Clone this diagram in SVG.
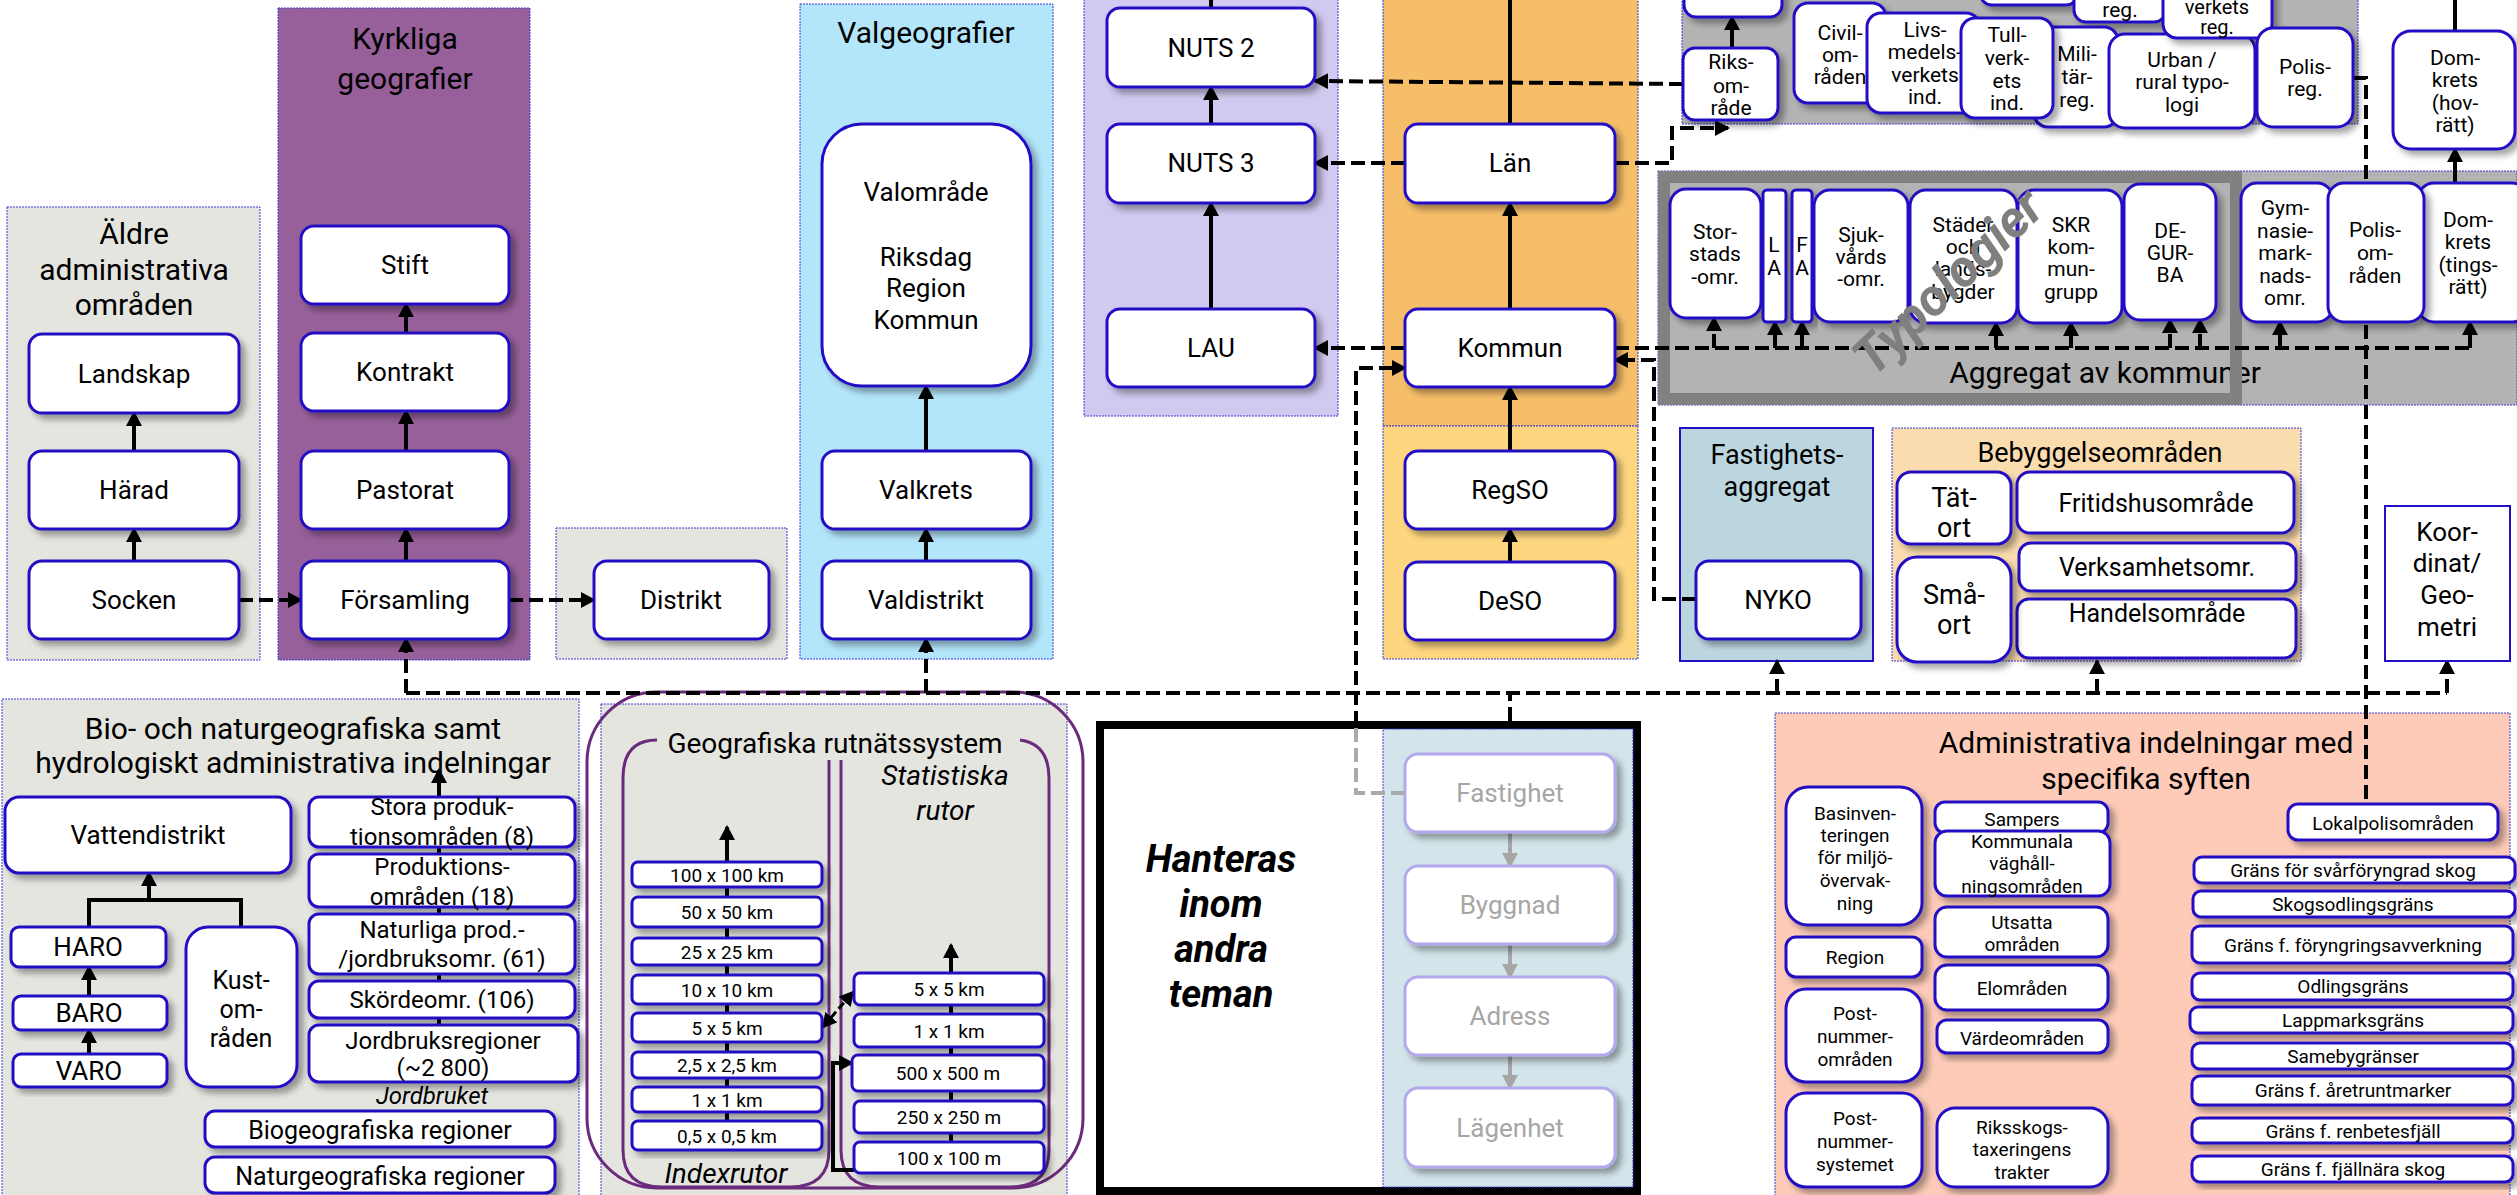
<svg xmlns="http://www.w3.org/2000/svg" width="2517" height="1195" viewBox="0 0 2517 1195">
<defs>
<style>
text{font-family:Roboto,'Liberation Sans',Arial,sans-serif;text-anchor:middle;dominant-baseline:central;fill:#000}
.bx{stroke:#3b3bd6;stroke-width:1;stroke-dasharray:2 1}
.n{fill:#fff;stroke:#2410c4;stroke-width:3;filter:url(#sh)}
.nf{fill:#fff;stroke:#b4a8ec;stroke-width:3;filter:url(#sh)}
.c{fill:none;stroke:#000;stroke-width:4}
.d{fill:none;stroke:#000;stroke-width:4;stroke-dasharray:14 6}
.dg{fill:none;stroke:#aaa;stroke-width:4;stroke-dasharray:14 6}
.g{fill:none;stroke:#a6a6a6;stroke-width:4}
.pu{fill:none;stroke:#6b2a7b;stroke-width:3}
.f19{font-size:19px}.f20{font-size:20px}.f21{font-size:21px}.f22{font-size:22px}.f24{font-size:24px}.f25{font-size:25px}.f26{font-size:26px}.f27{font-size:27px}.f28{font-size:28px}.f30{font-size:30px}
.it{font-style:italic}
.ft{fill:#a6a6a6}
.hb{font-size:38px;font-weight:bold;font-style:italic}
</style>
<filter id="sh" x="-20%" y="-20%" width="150%" height="150%"><feDropShadow dx="5" dy="5" stdDeviation="3" flood-color="#000" flood-opacity="0.35"/></filter>
<marker id="a" viewBox="0 0 15 16" refX="13" refY="8" markerWidth="15" markerHeight="16" markerUnits="userSpaceOnUse" orient="auto-start-reverse"><path d="M0,0 L15,8 L0,16 z" fill="#000" stroke="none"/></marker>
<marker id="ag" viewBox="0 0 15 16" refX="13" refY="8" markerWidth="15" markerHeight="16" markerUnits="userSpaceOnUse" orient="auto"><path d="M0,0 L15,8 L0,16 z" fill="#a6a6a6" stroke="none"/></marker>
</defs>
<rect width="2517" height="1195" fill="#fff"/>

<!-- containers -->
<g id="containers">
<rect class="bx" x="7" y="207" width="253" height="453" fill="#e5e5e0"/>
<text class="f30" x="134" y="233">Äldre</text>
<text class="f30" x="134" y="269">administrativa</text>
<text class="f30" x="134" y="304">områden</text>
<rect class="bx" x="278" y="8" width="252" height="652" fill="#97609a"/>
<text class="f30" x="405" y="38">Kyrkliga</text>
<text class="f30" x="405" y="78">geografier</text>
<rect class="bx" x="556" y="528" width="231" height="131" fill="#e5e5e0"/>
<rect class="bx" x="800" y="4" width="253" height="655" fill="#b3e5fb"/>
<text class="f30" x="926" y="32">Valgeografier</text>
<rect class="bx" x="1084" y="-5" width="254" height="421" fill="#d1c9ef"/>
<rect class="bx" x="1383" y="-5" width="255" height="431" fill="#f6be69"/>
<rect class="bx" x="1383" y="426" width="255" height="233" fill="#fed67f"/>
<rect class="bx" x="1682" y="-5" width="676" height="129" fill="#b3b3b3"/>
<rect class="bx" x="1658" y="171" width="859" height="234" fill="#b3b3b3"/>
<text class="f30" x="2105" y="372">Aggregat av kommuner</text>
<rect x="1664" y="177" width="572" height="222" fill="none" stroke="#818181" stroke-width="12"/>
<rect x="1680" y="428" width="193" height="233" fill="#bcd6df" stroke="#2410c4" stroke-width="2"/>
<text class="f27" x="1777" y="455">Fastighets-</text>
<text class="f27" x="1777" y="487">aggregat</text>
<rect class="bx" x="1892" y="428" width="409" height="233" fill="#fbdcae"/>
<text class="f27" x="2100" y="453">Bebyggelseområden</text>
<rect class="bx" x="2" y="699" width="577" height="500" fill="#e5e5e0"/>
<text class="f30" x="293" y="728">Bio- och naturgeografiska samt</text>
<text class="f30" x="293" y="762">hydrologiskt administrativa indelningar</text>
<rect class="bx" x="601" y="704" width="466" height="495" fill="#e5e5e0"/>
<rect class="pu" x="587" y="692" width="496" height="496" rx="70"/>
<path class="pu" d="M657,740 Q623,740 623,778 V1150 Q623,1187 662,1187 H790 Q829,1187 829,1150 V760"/>
<path class="pu" d="M1020,740 Q1049,744 1049,778 V1150 Q1049,1187 1010,1187 H880 Q841,1187 841,1150 V760"/>
<text class="f28" x="835" y="743">Geografiska rutnätssystem</text>
<text class="f28 it" x="945" y="775">Statistiska</text>
<text class="f28 it" x="945" y="810">rutor</text>
<text class="f28 it" x="726" y="1173">Indexrutor</text>
<rect x="1100" y="725" width="537" height="466" fill="#fff" stroke="#000" stroke-width="8"/>
<rect class="bx" x="1383" y="729" width="250" height="458" fill="#d3e5ea" stroke="#b0b0f0"/>
<text class="hb" x="1221" y="859">Hanteras</text>
<text class="hb" x="1221" y="904">inom</text>
<text class="hb" x="1221" y="949">andra</text>
<text class="hb" x="1221" y="994">teman</text>
<rect class="bx" x="1775" y="713" width="735" height="486" fill="#fecbb9"/>
<text class="f30" x="2146" y="742">Administrativa indelningar med</text>
<text class="f30" x="2146" y="778">specifika syften</text>
</g>

<!-- connectors -->
<g id="connectors">
<path class="c" d="M134,451 V413" marker-end="url(#a)"/>
<path class="c" d="M134,561 V529" marker-end="url(#a)"/>
<path class="c" d="M406,333 V304" marker-end="url(#a)"/>
<path class="c" d="M406,451 V411" marker-end="url(#a)"/>
<path class="c" d="M406,561 V529" marker-end="url(#a)"/>
<path class="d" d="M239,600 H301" marker-end="url(#a)"/>
<path class="d" d="M509,600 H594" marker-end="url(#a)"/>
<path class="c" d="M926,451 V386" marker-end="url(#a)"/>
<path class="c" d="M926,561 V529" marker-end="url(#a)"/>
<path class="c" d="M1211,8 V-5"/>
<path class="c" d="M1211,124 V87" marker-end="url(#a)"/>
<path class="c" d="M1211,309 V203" marker-end="url(#a)"/>
<path class="c" d="M1510,124 V-5"/>
<path class="c" d="M1510,309 V203" marker-end="url(#a)"/>
<path class="c" d="M1510,451 V387" marker-end="url(#a)"/>
<path class="c" d="M1510,562 V529" marker-end="url(#a)"/>
<path class="d" d="M1683,84 L1315,81" marker-end="url(#a)"/>
<path class="d" d="M1405,163 H1315" marker-end="url(#a)"/>
<path class="d" d="M1615,163 H1672 V128 H1728" marker-end="url(#a)"/>
<path class="d" d="M1405,348 H1315" marker-end="url(#a)"/>
<path class="dg" d="M1405,793 H1356 V725"/>
<path class="d" d="M1356,725 V368 H1405" marker-end="url(#a)"/>
<path class="d" d="M1696,599 H1654 V360 H1615" marker-end="url(#a)"/>
<path class="c" d="M1732,48 V17" marker-end="url(#a)"/>
<path class="c" d="M2455,31 V-5"/>
<path class="c" d="M2455,183 V149" marker-end="url(#a)"/>
<path class="d" d="M2353,78 H2366 V804"/>
<path class="d" d="M1615,348 H2470"/>
<path class="d" d="M1714,348 V318" marker-end="url(#a)"/>
<path class="d" d="M1775,348 V322" marker-end="url(#a)"/>
<path class="d" d="M1802,348 V322" marker-end="url(#a)"/>
<path class="d" d="M1996,348 V323" marker-end="url(#a)"/>
<path class="d" d="M2071,348 V323" marker-end="url(#a)"/>
<path class="d" d="M2170,348 V320" marker-end="url(#a)"/>
<path class="d" d="M2200,348 V320" marker-end="url(#a)"/>
<path class="d" d="M2280,348 V322" marker-end="url(#a)"/>
<path class="d" d="M2470,348 V322" marker-end="url(#a)"/>
<path class="d" d="M406,693 H2447"/>
<path class="d" d="M406,693 V639" marker-end="url(#a)"/>
<path class="d" d="M926,693 V639" marker-end="url(#a)"/>
<path class="d" d="M1777,693 V661" marker-end="url(#a)"/>
<path class="d" d="M2097,693 V661" marker-end="url(#a)"/>
<path class="d" d="M2447,693 V661" marker-end="url(#a)"/>
<path class="d" d="M1510,721 V693"/>
<path class="c" d="M89,927 V900 H241 V927"/>
<path class="c" d="M149,900 V873" marker-end="url(#a)"/>
<path class="c" d="M89,996 V967" marker-end="url(#a)"/>
<path class="c" d="M89,1054 V1030" marker-end="url(#a)"/>
<path class="c" d="M439,1025 V770" marker-end="url(#a)"/>
<path class="c" d="M727,1121 V827" marker-end="url(#a)"/>
<path class="c" d="M951,1142 V945" marker-end="url(#a)"/>
<path class="d" style="stroke-width:3;stroke-dasharray:8 4" d="M823,1027 L853,992" marker-start="url(#a)" marker-end="url(#a)"/>
<path class="c" d="M854,1170 H833 V1063 H852" marker-end="url(#a)"/>
<path class="g" d="M1510,832 V866" marker-end="url(#ag)"/>
<path class="g" d="M1510,944 V977" marker-end="url(#ag)"/>
<path class="g" d="M1510,1055 V1088" marker-end="url(#ag)"/>
</g>

<!-- nodes -->
<g id="n-landskap"><rect class="n" x="29" y="334" width="210" height="79" rx="13"/><text class="f26" x="134" y="374">Landskap</text></g>
<g id="n-harad"><rect class="n" x="29" y="451" width="210" height="78" rx="13"/><text class="f26" x="134" y="490">Härad</text></g>
<g id="n-socken"><rect class="n" x="29" y="561" width="210" height="78" rx="13"/><text class="f26" x="134" y="600">Socken</text></g>
<g id="n-stift"><rect class="n" x="301" y="226" width="208" height="78" rx="13"/><text class="f26" x="405" y="265">Stift</text></g>
<g id="n-kontrakt"><rect class="n" x="301" y="333" width="208" height="78" rx="13"/><text class="f26" x="405" y="372">Kontrakt</text></g>
<g id="n-pastorat"><rect class="n" x="301" y="451" width="208" height="78" rx="13"/><text class="f26" x="405" y="490">Pastorat</text></g>
<g id="n-forsamling"><rect class="n" x="301" y="561" width="208" height="78" rx="13"/><text class="f26" x="405" y="600">Församling</text></g>
<g id="n-distrikt"><rect class="n" x="594" y="561" width="175" height="78" rx="13"/><text class="f26" x="681" y="600">Distrikt</text></g>
<g id="n-valomrade"><rect class="n" x="822" y="124" width="209" height="262" rx="40"/><text class="f26" x="926" y="192">Valområde</text><text class="f26" x="926" y="257">Riksdag</text><text class="f26" x="926" y="288">Region</text><text class="f26" x="926" y="320">Kommun</text></g>
<g id="n-valkrets"><rect class="n" x="822" y="451" width="209" height="78" rx="13"/><text class="f26" x="926" y="490">Valkrets</text></g>
<g id="n-valdistrikt"><rect class="n" x="822" y="561" width="209" height="78" rx="13"/><text class="f26" x="926" y="600">Valdistrikt</text></g>
<g id="n-nuts2"><rect class="n" x="1107" y="8" width="208" height="79" rx="13"/><text class="f26" x="1211" y="48">NUTS 2</text></g>
<g id="n-nuts3"><rect class="n" x="1107" y="124" width="208" height="79" rx="13"/><text class="f26" x="1211" y="163">NUTS 3</text></g>
<g id="n-lau"><rect class="n" x="1107" y="309" width="208" height="78" rx="13"/><text class="f26" x="1211" y="348">LAU</text></g>
<g id="n-lan"><rect class="n" x="1405" y="124" width="210" height="79" rx="13"/><text class="f26" x="1510" y="163">Län</text></g>
<g id="n-kommun"><rect class="n" x="1405" y="309" width="210" height="78" rx="13"/><text class="f26" x="1510" y="348">Kommun</text></g>
<g id="n-regso"><rect class="n" x="1405" y="451" width="210" height="78" rx="13"/><text class="f26" x="1510" y="490">RegSO</text></g>
<g id="n-deso"><rect class="n" x="1405" y="562" width="210" height="78" rx="13"/><text class="f26" x="1510" y="601">DeSO</text></g>
<g id="n-top1"><rect class="n" x="1684" y="-20" width="98" height="37" rx="12"/></g>
<g id="n-riksomrade"><rect class="n" x="1683" y="48" width="95" height="72" rx="12"/><text class="f21" x="1731" y="62">Riks-</text><text class="f21" x="1731" y="86">om-</text><text class="f21" x="1731" y="108">råde</text></g>
<g id="n-civil"><rect class="n" x="1794" y="3" width="92" height="100" rx="14"/><text class="f21" x="1840" y="33">Civil-</text><text class="f21" x="1840" y="55">om-</text><text class="f21" x="1840" y="77">råden</text></g>
<g id="n-livs"><rect class="n" x="1867" y="13" width="113" height="100" rx="14"/><text class="f21" x="1925" y="30">Livs-</text><text class="f21" x="1925" y="52">medels-</text><text class="f21" x="1925" y="75">verkets</text><text class="f21" x="1925" y="97">ind.</text></g>
<g id="n-top2"><rect class="n" x="1980" y="-30" width="98" height="35" rx="12"/></g>
<g id="n-reg"><rect class="n" x="2074" y="-30" width="92" height="52" rx="12"/><text class="f21" x="2120" y="10">reg.</text></g>
<g id="n-militar"><rect class="n" x="2034" y="27" width="84" height="100" rx="14"/><text class="f21" x="2077" y="54">Mili-</text><text class="f21" x="2077" y="77">tär-</text><text class="f21" x="2077" y="100">reg.</text></g>
<g id="n-tull"><rect class="n" x="1961" y="18" width="92" height="100" rx="14"/><text class="f21" x="2007" y="35">Tull-</text><text class="f21" x="2007" y="58">verk-</text><text class="f21" x="2007" y="81">ets</text><text class="f21" x="2007" y="103">ind.</text></g>
<g id="n-urban"><rect class="n" x="2109" y="34" width="146" height="94" rx="16"/><text class="f21" x="2182" y="60">Urban /</text><text class="f21" x="2182" y="82">rural typo-</text><text class="f21" x="2182" y="105">logi</text></g>
<g id="n-verkets"><rect class="n" x="2163" y="-40" width="109" height="78" rx="14"/><text class="f20" x="2217" y="7">verkets</text><text class="f20" x="2217" y="27">reg.</text></g>
<g id="n-polisreg"><rect class="n" x="2257" y="28" width="96" height="99" rx="16"/><text class="f21" x="2305" y="67">Polis-</text><text class="f21" x="2305" y="89">reg.</text></g>
<g id="n-domhov"><rect class="n" x="2393" y="31" width="122" height="118" rx="18"/><text class="f21" x="2455" y="58">Dom-</text><text class="f21" x="2455" y="80">krets</text><text class="f21" x="2455" y="103">(hov-</text><text class="f21" x="2455" y="125">rätt)</text></g>
<g id="n-storstads"><rect class="n" x="1670" y="189" width="91" height="129" rx="16"/><text class="f21" x="1715" y="232">Stor-</text><text class="f21" x="1715" y="254">stads</text><text class="f21" x="1715" y="277">-omr.</text></g>
<g id="n-la"><rect class="n" x="1763" y="190" width="23" height="132" rx="4"/><text class="f21" x="1774" y="245">L</text><text class="f21" x="1774" y="268">A</text></g>
<g id="n-fa"><rect class="n" x="1792" y="190" width="20" height="132" rx="4"/><text class="f21" x="1802" y="245">F</text><text class="f21" x="1802" y="268">A</text></g>
<g id="n-sjukvard"><rect class="n" x="1814" y="190" width="94" height="132" rx="16"/><text class="f21" x="1861" y="235">Sjuk-</text><text class="f21" x="1861" y="257">vårds</text><text class="f21" x="1861" y="279">-omr.</text></g>
<g id="n-stader"><rect class="n" x="1910" y="190" width="107" height="133" rx="16"/><text class="f21" x="1963" y="225">Städer</text><text class="f21" x="1963" y="247">och</text><text class="f21" x="1963" y="269">lands-</text><text class="f21" x="1963" y="292">bygder</text></g>
<g id="n-skr"><rect class="n" x="2018" y="190" width="104" height="133" rx="16"/><text class="f21" x="2071" y="225">SKR</text><text class="f21" x="2071" y="247">kom-</text><text class="f21" x="2071" y="269">mun-</text><text class="f21" x="2071" y="292">grupp</text></g>
<g id="n-degurba"><rect class="n" x="2124" y="184" width="92" height="136" rx="16"/><text class="f21" x="2170" y="231">DE-</text><text class="f21" x="2170" y="253">GUR-</text><text class="f21" x="2170" y="275">BA</text></g>
<g id="n-gymnasie"><rect class="n" x="2241" y="183" width="92" height="139" rx="16"/><text class="f21" x="2285" y="208">Gym-</text><text class="f21" x="2285" y="231">nasie-</text><text class="f21" x="2285" y="253">mark-</text><text class="f21" x="2285" y="276">nads-</text><text class="f21" x="2285" y="298">omr.</text></g>
<g id="n-domting"><rect class="n" x="2418" y="183" width="110" height="139" rx="16"/><text class="f21" x="2468" y="220">Dom-</text><text class="f21" x="2468" y="242">krets</text><text class="f21" x="2468" y="265">(tings-</text><text class="f21" x="2468" y="287">rätt)</text></g>
<g id="n-polisomr"><rect class="n" x="2328" y="183" width="96" height="139" rx="16"/><text class="f21" x="2375" y="230">Polis-</text><text class="f21" x="2375" y="253">om-</text><text class="f21" x="2375" y="276">råden</text></g>
<text x="1948" y="282" transform="rotate(-44 1948 282)" style="font-size:52px;font-weight:bold;font-style:italic;fill:#7f7f7f">Typologier</text>
<g id="n-nyko"><rect class="n" x="1696" y="561" width="165" height="78" rx="13"/><text class="f26" x="1778" y="600">NYKO</text></g>
<g id="n-tatort"><rect class="n" x="1897" y="472" width="114" height="72" rx="14"/><text class="f27" x="1954" y="498">Tät-</text><text class="f27" x="1954" y="528">ort</text></g>
<g id="n-fritid"><rect class="n" x="2017" y="472" width="277" height="61" rx="13"/><text class="f25" x="2156" y="503">Fritidshusområde</text></g>
<g id="n-verksamhet"><rect class="n" x="2019" y="543" width="277" height="48" rx="12"/><text class="f25" x="2157" y="567">Verksamhetsomr.</text></g>
<g id="n-handel"><rect class="n" x="2017" y="599" width="279" height="59" rx="12"/><text class="f25" x="2157" y="613">Handelsområde</text></g>
<g id="n-smaort"><rect class="n" x="1897" y="557" width="114" height="105" rx="20"/><text class="f27" x="1954" y="595">Små-</text><text class="f27" x="1954" y="625">ort</text></g>
<g id="n-koordinat"><rect x="2385" y="506" width="125" height="155" fill="#fff" stroke="#2410c4" stroke-width="2"/><text class="f26" x="2447" y="532">Koor-</text><text class="f26" x="2447" y="563">dinat/</text><text class="f26" x="2447" y="595">Geo-</text><text class="f26" x="2447" y="627">metri</text></g>

<g id="n-vattendistrikt"><rect class="n" x="5" y="797" width="286" height="76" rx="14"/><text class="f26" x="148" y="835">Vattendistrikt</text></g>
<g id="n-haro"><rect class="n" x="11" y="927" width="155" height="40" rx="8"/><text class="f26" x="88" y="947">HARO</text></g>
<g id="n-baro"><rect class="n" x="13" y="996" width="154" height="34" rx="8"/><text class="f26" x="89" y="1013">BARO</text></g>
<g id="n-varo"><rect class="n" x="13" y="1054" width="154" height="33" rx="8"/><text class="f26" x="89" y="1071">VARO</text></g>
<g id="n-kust"><rect class="n" x="186" y="927" width="111" height="160" rx="22"/><text class="f25" x="241" y="980">Kust-</text><text class="f25" x="241" y="1009">om-</text><text class="f25" x="241" y="1038">råden</text></g>
<g id="n-stora"><rect class="n" x="309" y="797" width="266" height="50" rx="10"/><text class="f24" x="442" y="807">Stora produk-</text><text class="f24" x="442" y="837">tionsområden (8)</text></g>
<g id="n-produktion"><rect class="n" x="309" y="854" width="266" height="53" rx="10"/><text class="f24" x="442" y="867">Produktions-</text><text class="f24" x="442" y="897">områden (18)</text></g>
<g id="n-naturliga"><rect class="n" x="309" y="914" width="266" height="60" rx="10"/><text class="f24" x="442" y="930">Naturliga prod.-</text><text class="f24" x="442" y="959">/jordbruksomr. (61)</text></g>
<g id="n-skorde"><rect class="n" x="309" y="981" width="266" height="37" rx="10"/><text class="f24" x="442" y="1000">Skördeomr. (106)</text></g>
<g id="n-jordbruksreg"><rect class="n" x="309" y="1025" width="269" height="57" rx="10"/><text class="f24" x="443" y="1041">Jordbruksregioner</text><text class="f24" x="443" y="1068">(~2 800)</text></g>
<text class="f24 it" x="432" y="1096">Jordbruket</text>
<g id="n-biogeo"><rect class="n" x="205" y="1111" width="350" height="36" rx="10"/><text class="f25" x="380" y="1130">Biogeografiska regioner</text></g>
<g id="n-naturgeo"><rect class="n" x="205" y="1157" width="350" height="36" rx="10"/><text class="f25" x="380" y="1176">Naturgeografiska regioner</text></g>

<g id="n-i100"><rect class="n" x="632" y="862" width="190" height="25" rx="6"/><text class="f19" x="727" y="875">100 x 100 km</text></g>
<g id="n-i50"><rect class="n" x="632" y="897" width="190" height="30" rx="6"/><text class="f19" x="727" y="912">50 x 50 km</text></g>
<g id="n-i25"><rect class="n" x="632" y="938" width="190" height="27" rx="6"/><text class="f19" x="727" y="952">25 x 25 km</text></g>
<g id="n-i10"><rect class="n" x="632" y="975" width="190" height="29" rx="6"/><text class="f19" x="727" y="990">10 x 10 km</text></g>
<g id="n-i5"><rect class="n" x="632" y="1013" width="190" height="29" rx="6"/><text class="f19" x="727" y="1028">5 x 5 km</text></g>
<g id="n-i25b"><rect class="n" x="632" y="1052" width="190" height="26" rx="6"/><text class="f19" x="727" y="1065">2,5 x 2,5 km</text></g>
<g id="n-i1"><rect class="n" x="632" y="1087" width="190" height="25" rx="6"/><text class="f19" x="727" y="1100">1 x 1 km</text></g>
<g id="n-i05"><rect class="n" x="632" y="1121" width="190" height="29" rx="6"/><text class="f19" x="727" y="1136">0,5 x 0,5 km</text></g>
<g id="n-s5"><rect class="n" x="854" y="973" width="190" height="32" rx="6"/><text class="f19" x="949" y="989">5 x 5 km</text></g>
<g id="n-s1"><rect class="n" x="854" y="1014" width="190" height="33" rx="6"/><text class="f19" x="949" y="1031">1 x 1 km</text></g>
<g id="n-s500"><rect class="n" x="852" y="1055" width="192" height="36" rx="6"/><text class="f19" x="948" y="1073">500 x 500 m</text></g>
<g id="n-s250"><rect class="n" x="854" y="1101" width="190" height="32" rx="6"/><text class="f19" x="949" y="1117">250 x 250 m</text></g>
<g id="n-s100"><rect class="n" x="854" y="1142" width="190" height="31" rx="6"/><text class="f19" x="949" y="1158">100 x 100 m</text></g>

<g id="n-fastighet"><rect class="nf" x="1405" y="754" width="210" height="78" rx="13"/><text class="f26 ft" x="1510" y="793">Fastighet</text></g>
<g id="n-byggnad"><rect class="nf" x="1405" y="866" width="210" height="78" rx="13"/><text class="f26 ft" x="1510" y="905">Byggnad</text></g>
<g id="n-adress"><rect class="nf" x="1405" y="977" width="210" height="78" rx="13"/><text class="f26 ft" x="1510" y="1016">Adress</text></g>
<g id="n-lagenhet"><rect class="nf" x="1405" y="1088" width="210" height="79" rx="13"/><text class="f26 ft" x="1510" y="1128">Lägenhet</text></g>

<g id="n-basinv"><rect class="n" x="1786" y="787" width="136" height="138" rx="22"/><text class="f19" x="1855" y="813">Basinven-</text><text class="f19" x="1855" y="835">teringen</text><text class="f19" x="1855" y="857">för miljö-</text><text class="f19" x="1855" y="880">övervak-</text><text class="f19" x="1855" y="903">ning</text></g>
<g id="n-region"><rect class="n" x="1786" y="937" width="136" height="40" rx="10"/><text class="f19" x="1855" y="957">Region</text></g>
<g id="n-postomr"><rect class="n" x="1786" y="989" width="136" height="93" rx="20"/><text class="f19" x="1855" y="1013">Post-</text><text class="f19" x="1855" y="1036">nummer-</text><text class="f19" x="1855" y="1059">områden</text></g>
<g id="n-postsys"><rect class="n" x="1786" y="1093" width="136" height="94" rx="20"/><text class="f19" x="1855" y="1118">Post-</text><text class="f19" x="1855" y="1141">nummer-</text><text class="f19" x="1855" y="1164">systemet</text></g>
<g id="n-sampers"><rect class="n" x="1935" y="802" width="173" height="31" rx="10"/><text class="f19" x="2022" y="819">Sampers</text></g>
<g id="n-kommunala"><rect class="n" x="1935" y="831" width="175" height="65" rx="12"/><text class="f19" x="2022" y="841">Kommunala</text><text class="f19" x="2022" y="863">väghåll-</text><text class="f19" x="2022" y="886">ningsområden</text></g>
<g id="n-utsatta"><rect class="n" x="1935" y="907" width="173" height="50" rx="12"/><text class="f19" x="2022" y="922">Utsatta</text><text class="f19" x="2022" y="944">områden</text></g>
<g id="n-elomraden"><rect class="n" x="1935" y="965" width="173" height="45" rx="12"/><text class="f19" x="2022" y="988">Elområden</text></g>
<g id="n-vardeomraden"><rect class="n" x="1937" y="1020" width="171" height="33" rx="10"/><text class="f19" x="2022" y="1038">Värdeområden</text></g>
<g id="n-riksskog"><rect class="n" x="1937" y="1108" width="171" height="79" rx="18"/><text class="f19" x="2022" y="1127">Riksskogs-</text><text class="f19" x="2022" y="1149">taxeringens</text><text class="f19" x="2022" y="1172">trakter</text></g>
<g id="n-lokalpolis"><rect class="n" x="2288" y="804" width="210" height="36" rx="10"/><text class="f19" x="2393" y="823">Lokalpolisområden</text></g>
<g id="n-g1"><rect class="n" x="2194" y="857" width="321" height="26" rx="8"/><text class="f19" x="2353" y="870">Gräns för svårföryngrad skog</text></g>
<g id="n-g2"><rect class="n" x="2193" y="891" width="322" height="26" rx="8"/><text class="f19" x="2353" y="904">Skogsodlingsgräns</text></g>
<g id="n-g3"><rect class="n" x="2192" y="926" width="321" height="37" rx="8"/><text class="f19" x="2353" y="945">Gräns f. föryngringsavverkning</text></g>
<g id="n-g4"><rect class="n" x="2192" y="973" width="321" height="27" rx="8"/><text class="f19" x="2353" y="986">Odlingsgräns</text></g>
<g id="n-g5"><rect class="n" x="2190" y="1007" width="323" height="26" rx="8"/><text class="f19" x="2353" y="1020">Lappmarksgräns</text></g>
<g id="n-g6"><rect class="n" x="2192" y="1043" width="321" height="26" rx="8"/><text class="f19" x="2353" y="1056">Samebygränser</text></g>
<g id="n-g7"><rect class="n" x="2192" y="1076" width="321" height="29" rx="8"/><text class="f19" x="2353" y="1090">Gräns f. åretruntmarker</text></g>
<g id="n-g8"><rect class="n" x="2192" y="1118" width="321" height="25" rx="8"/><text class="f19" x="2353" y="1131">Gräns f. renbetesfjäll</text></g>
<g id="n-g9"><rect class="n" x="2192" y="1156" width="321" height="26" rx="8"/><text class="f19" x="2353" y="1169">Gräns f. fjällnära skog</text></g>
</svg>
